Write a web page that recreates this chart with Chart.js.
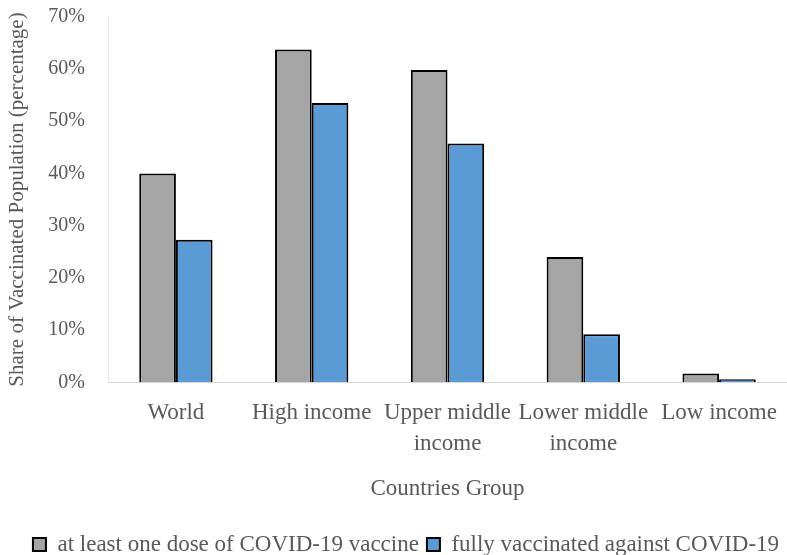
<!DOCTYPE html>
<html>
<head>
<meta charset="utf-8">
<script src="https://cdn.jsdelivr.net/npm/chart.js@4"></script>
<style>
  html, body { margin: 0; padding: 0; background: #ffffff; }
  #wrap { width: 787px; height: 555px; position: relative; }
</style>
</head>
<body>
<div id="wrap"><canvas id="chart"></canvas></div>
<script>
// Country income groups on the x axis
const categories = ['World', 'High income', ['Upper middle', 'income'], ['Lower middle', 'income'], 'Low income'];
// Share of population with at least one dose (%)
const oneDose = [40.0, 63.7, 59.8, 24.0, 1.7];
// Share of population fully vaccinated (%)
const fullyVaccinated = [27.3, 53.5, 45.7, 9.2, 0.6];
// Y axis tick range (%)
const yTicks = [0, 10, 20, 30, 40, 50, 60, 70];

const serif = "'Liberation Serif', 'DejaVu Serif', serif";
const textGray = '#595959';

// Nudges the legend row slightly to the right of the canvas centre
const legendShift = {
  id: 'legendShift',
  afterLayout(chart) {
    if (chart.legend) {
      chart.legend.left += 10;
      chart.legend.right += 10;
    }
  }
};

new Chart(document.getElementById('chart'), {
  type: 'bar',
  data: {
    labels: categories,
    datasets: [
      {
        label: 'at least one dose of COVID-19 vaccine',
        data: oneDose,
        backgroundColor: '#a5a5a5',
        borderColor: '#000000',
        borderWidth: 2,
        borderSkipped: 'bottom'
      },
      {
        label: 'fully vaccinated against COVID-19',
        data: fullyVaccinated,
        backgroundColor: '#5b9bd5',
        borderColor: '#000000',
        borderWidth: 2,
        borderSkipped: 'bottom'
      }
    ]
  },
  plugins: [legendShift],
  options: {
    responsive: true,
    maintainAspectRatio: false,
    animation: false,
    layout: { padding: { top: 0, right: 0, left: 5, bottom: -11 } },
    datasets: { bar: { categoryPercentage: 0.54, barPercentage: 1.0 } },
    plugins: {
      legend: {
        position: 'bottom',
        labels: {
          color: textGray,
          font: { family: serif, size: 23, lineHeight: 1.0 },
          boxWidth: 13,
          boxHeight: 13,
          padding: 8
        }
      },
      tooltip: { enabled: false }
    },
    scales: {
      x: {
        grid: { display: false, drawTicks: false },
        border: { display: true, color: '#d9d9d9', width: 1 },
        afterFit: (scale) => { scale.paddingLeft = 0; scale.paddingRight = 0; },
        ticks: {
          color: textGray,
          font: { family: serif, size: 23, lineHeight: 1.35 },
          maxRotation: 0,
          autoSkip: false,
          padding: 15
        },
        title: {
          display: true,
          text: 'Countries Group',
          color: textGray,
          font: { family: serif, size: 23 },
          padding: { top: 1, bottom: 22 }
        }
      },
      y: {
        min: yTicks[0],
        max: yTicks[yTicks.length - 1],
        grid: { display: false, drawTicks: false },
        border: { display: true, color: '#e6e6e6', width: 1 },
        afterBuildTicks: (axis) => { axis.ticks = yTicks.map(v => ({ value: v })); },
        afterFit: (scale) => { scale.width = 103; scale.paddingTop = 16.7; scale.paddingBottom = 0; },
        ticks: {
          color: textGray,
          font: { family: serif, size: 20 },
          padding: 23,
          callback: (v) => v + '%'
        },
        title: {
          display: true,
          text: 'Share of Vaccinated Population (percentage)',
          color: textGray,
          font: { family: serif, size: 21 },
          padding: { top: 0, bottom: 0 }
        }
      }
    }
  }
});
</script>
</body>
</html>
